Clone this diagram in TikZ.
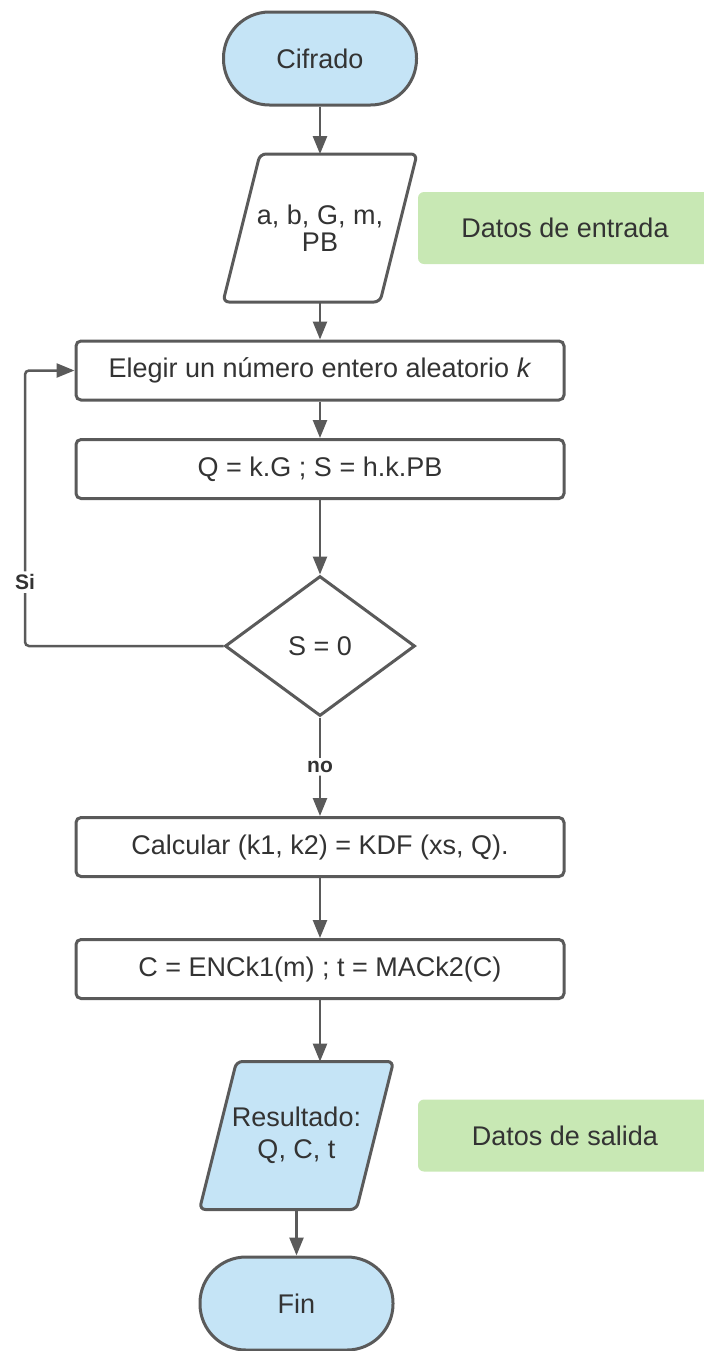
\documentclass[tikz,border=0pt]{standalone}
\usepackage{fontspec}
\setmainfont{Liberation Sans}
\usetikzlibrary{shapes.geometric,arrows.meta}
\definecolor{edge}{HTML}{5A5A5A}
\definecolor{termfill}{HTML}{C5E4F6}
\definecolor{notefill}{HTML}{C8E8B4}
\definecolor{ink}{HTML}{333333}

\begin{document}
\begin{tikzpicture}[x=0.5pt,y=-0.5pt,
  txt/.style={text=ink, font=\fontsize{13.5}{16}\selectfont, align=center},
  base/.style={txt, draw=edge, line width=1.5pt, inner sep=0pt},
  terminal/.style={base, fill=termfill, rounded corners=23pt, minimum width=96.5pt, minimum height=46.5pt},
  process/.style={base, fill=white, rounded corners=2.5pt, minimum width=244pt, minimum height=29.5pt},
  decision/.style={base, diamond, fill=white, aspect=1.35, minimum width=95pt, minimum height=70pt},
  iobody/.style={draw=edge, line width=1.5pt, rounded corners=3pt},
  iotext/.style={txt, inner sep=0pt, minimum width=78pt, minimum height=73.5pt},
  note/.style={txt, fill=notefill, rounded corners=3pt, minimum width=147pt, minimum height=36pt, inner sep=0pt},
  flow/.style={draw=edge, line width=1.25pt, rounded corners=2pt, -{Triangle[length=9pt,width=7pt]}},
  tag/.style={fill=white, text=ink, font=\bfseries\fontsize{10.5}{12}\selectfont, inner sep=1.5pt}
]
\useasboundingbox (0,0) rectangle (703,1351);

% start
\node[terminal] (cif) at (320,58.5) {Cifrado};

% input data
\coordinate (inc) at (320,228);
\draw[iobody, fill=white] ([shift={(-97,74)}]inc) -- ([shift={(60,74)}]inc)
  -- ([shift={(97,-74)}]inc) -- ([shift={(-60,-74)}]inc) -- cycle;
\node[iotext, font=\fontsize{13.5}{13.5}\selectfont] (in) at (inc) {a, b, G, m,\\PB};
\node[note] (din) at (565,228) {Datos de entrada};

% loop body
\node[process] (elegir) at (320,370.5) {Elegir un número entero aleatorio \textit{k}};
\node[process] (q) at (320,469) {Q = k.G ; S = h.k.PB};
\node[decision] (dia) at (320,646) {S = 0};

% key derivation and encryption
\node[process] (kdf) at (320,847) {Calcular (k1, k2) = KDF (xs, Q).};
\node[process] (enc) at (320,969) {C = ENCk1(m) ; t = MACk2(C)};

% output data
\coordinate (resc) at (296.5,1135.5);
\draw[iobody, fill=termfill] ([shift={(-97,74)}]resc) -- ([shift={(60,74)}]resc)
  -- ([shift={(97,-74)}]resc) -- ([shift={(-60,-74)}]resc) -- cycle;
\node[iotext, font=\fontsize{13.5}{16}\selectfont] (res) at (resc) {Resultado:\\Q, C, t};
\node[note] (dsal) at (565,1135.5) {Datos de salida};

% end
\node[terminal] (fin) at (296.5,1303.5) {Fin};

% connectors
\coordinate (lowleft) at (25,646);
\coordinate (upleft) at (25,370.5);
\draw[flow] (cif) -- (in);
\draw[flow] (in) -- (elegir);
\draw[flow] (elegir) -- (q);
\draw[flow] (q) -- (dia);
\draw[flow] (dia.west) -- (lowleft) -- node[tag, pos=0.232] {Si} (upleft) -- (elegir.west);
\draw[flow] (dia) -- node[tag] {no} (kdf);
\draw[flow] (kdf) -- (enc);
\draw[flow] (enc) -- (enc.south |- res.north);
\draw[flow] (res) -- (fin);
\end{tikzpicture}
\end{document}
